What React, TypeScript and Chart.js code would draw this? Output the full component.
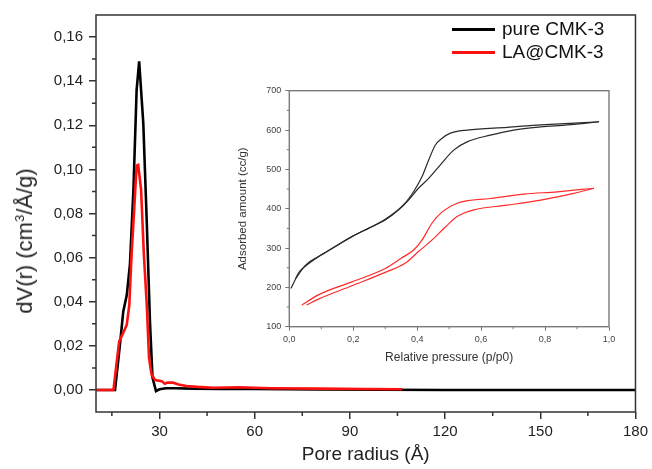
import React, { useEffect, useRef } from 'react';
import { Chart, registerables } from 'chart.js';
Chart.register(...registerables);

// ---- main plot data: pore size distribution ----
const blackRadius = [10, 15, 16, 17.5, 18.6, 19.7, 20.7, 21.8, 22.8, 23.6, 24.9, 26.0, 27.0, 27.8, 28.9, 30, 32, 35, 40, 50, 60, 80, 100, 120, 150, 180];
const blackDV = [0, 0, 0, 0.02, 0.0356, 0.043, 0.057, 0.091, 0.136, 0.149, 0.121, 0.076, 0.031, 0.0056, -0.0005, 0.0003, 0.0008, 0.0008, 0.0006, 0.0005, 0.0004, 0.0002, 0.0001, 0, 0, 0];
const redRadius = [10, 15.5, 17.3, 18.6, 19.7, 20.5, 21.2, 22.1, 22.8, 23.3, 24.2, 25.1, 26.0, 26.7, 27.5, 28.6, 30.7, 31.7, 32.5, 34.3, 36, 38.5, 42, 47, 55, 65, 80, 95, 106.5];
const redDV = [0, 0, 0.022, 0.026, 0.0296, 0.0387, 0.061, 0.0837, 0.1017, 0.102, 0.091, 0.061, 0.0387, 0.0146, 0.007, 0.0045, 0.004, 0.0028, 0.0033, 0.0033, 0.0025, 0.0018, 0.0014, 0.001, 0.0012, 0.0008, 0.0006, 0.0004, 0.0003];

const mainXTicks = [30, 60, 90, 120, 150, 180];
const mainXMinor = [15, 45, 75, 105, 135, 165];
const mainYTicks = [0, 0.02, 0.04, 0.06, 0.08, 0.1, 0.12, 0.14, 0.16];
const mainYMinor = [0.01, 0.03, 0.05, 0.07, 0.09, 0.11, 0.13, 0.15];

// ---- inset data: N2 isotherms ----
const blackAdsP = [0.005, 0.018, 0.028, 0.049, 0.091, 0.143, 0.196, 0.248, 0.300, 0.342, 0.373, 0.404, 0.436, 0.472, 0.514, 0.556, 0.629, 0.702, 0.786, 0.87, 0.969];
const blackAdsV = [197, 219, 236, 253, 278, 303, 329, 350, 371, 397, 422, 452, 477, 511, 549, 570, 587, 600, 608, 613, 621];
const blackDesP = [0.02, 0.05, 0.1, 0.2, 0.3, 0.36, 0.39, 0.415, 0.436, 0.457, 0.478, 0.504, 0.556, 0.681, 0.786, 0.969];
const blackDesV = [222, 256, 282, 331, 373, 412, 445, 481, 524, 562, 579, 592, 600, 607, 613, 621];
const redAdsP = [0.054, 0.091, 0.196, 0.300, 0.362, 0.404, 0.446, 0.489, 0.525, 0.577, 0.681, 0.786, 0.890, 0.953];
const redAdsV = [155, 170, 204, 238, 261, 291, 320, 354, 380, 397, 409, 422, 439, 452];
const redDesP = [0.039, 0.091, 0.196, 0.300, 0.35, 0.389, 0.415, 0.446, 0.478, 0.525, 0.629, 0.734, 0.838, 0.953];
const redDesV = [155, 181, 214, 248, 274, 295, 320, 363, 392, 414, 426, 437, 443, 452];

const insetXTicks = [0, 0.2, 0.4, 0.6, 0.8, 1.0];
const insetXMinor = [0.1, 0.3, 0.5, 0.7, 0.9];
const insetYTicks = [100, 200, 300, 400, 500, 600, 700];
const insetYMinor = [150, 250, 350, 450, 550, 650];

const FONT = "'Liberation Sans', Arial, Helvetica, sans-serif";

const pts = (xs: number[], ys: number[]) => xs.map((x, i) => ({ x, y: ys[i] }));

function framePlugin(color: string, width: number, minorX: number[], minorY: number[], minorLen: number, tickW: number) {
  return {
    id: 'frameMinor',
    afterDraw(chart: any) {
      const { ctx, chartArea: a, scales } = chart;
      ctx.save();
      ctx.strokeStyle = color;
      ctx.lineWidth = width;
      ctx.strokeRect(a.left, a.top, a.right - a.left, a.bottom - a.top);
      ctx.lineWidth = tickW;
      ctx.beginPath();
      minorX.forEach((v) => {
        const x = scales.x.getPixelForValue(v);
        ctx.moveTo(x, a.bottom);
        ctx.lineTo(x, a.bottom + minorLen);
      });
      minorY.forEach((v) => {
        const y = scales.y.getPixelForValue(v);
        ctx.moveTo(a.left, y);
        ctx.lineTo(a.left - minorLen, y);
      });
      ctx.stroke();
      ctx.restore();
    },
  };
}

export default function App() {
  const mainRef = useRef<HTMLCanvasElement | null>(null);
  const insetRef = useRef<HTMLCanvasElement | null>(null);

  useEffect(() => {
    const main = new Chart(mainRef.current as HTMLCanvasElement, {
      type: 'scatter',
      data: {
        datasets: [
          {
            label: 'LA@CMK-3',
            data: pts(redRadius, redDV),
            showLine: true,
            borderColor: '#ff1010',
            borderWidth: 2.6,
            pointRadius: 0,
            tension: 0,
            order: 0,
          },
          {
            label: 'pure CMK-3',
            data: pts(blackRadius, blackDV),
            showLine: true,
            borderColor: '#000000',
            borderWidth: 2.6,
            pointRadius: 0,
            tension: 0,
            order: 1,
          },
        ],
      },
      options: {
        animation: false,
        responsive: false,
        layout: { padding: { left: 0, top: 12, right: 15, bottom: 0 } },
        plugins: { legend: { display: false }, tooltip: { enabled: false } },
        scales: {
          x: {
            type: 'linear',
            min: 10,
            max: 180,
            afterBuildTicks: (s: any) => { s.ticks = mainXTicks.map((v) => ({ value: v })); },
            afterFit: (s: any) => { s.height = 57; },
            grid: { drawOnChartArea: false, drawTicks: true, tickLength: 7, color: '#333', lineWidth: 1.5 },
            border: { display: false },
            ticks: { color: '#222', font: { family: FONT, size: 15 }, padding: 4, maxRotation: 0, callback: (v: any) => String(v) },
            title: { display: true, text: 'Pore radius (Å)', color: '#222', font: { family: FONT, size: 19 }, padding: { top: 0, bottom: 3 } },
          },
          y: {
            type: 'linear',
            min: -0.01,
            max: 0.17,
            afterBuildTicks: (s: any) => { s.ticks = mainYTicks.map((v) => ({ value: v })); },
            afterFit: (s: any) => { s.width = 96; },
            grid: { drawOnChartArea: false, drawTicks: true, tickLength: 7, color: '#333', lineWidth: 1.5 },
            border: { display: false },
            ticks: { color: '#222', font: { family: FONT, size: 15 }, padding: 6, callback: (v: any) => Number(v).toFixed(2).replace('.', ',') },
            title: { display: false },
          },
        },
      },
      plugins: [framePlugin('#333', 1.5, mainXMinor, mainYMinor, 4, 1.5)],
    } as any);

    const inset = new Chart(insetRef.current as HTMLCanvasElement, {
      type: 'scatter',
      data: {
        datasets: [
          { label: 'pure CMK-3 ads', data: pts(blackAdsP, blackAdsV), showLine: true, borderColor: '#2a2a2a', borderWidth: 1.2, pointRadius: 0, cubicInterpolationMode: 'monotone' },
          { label: 'pure CMK-3 des', data: pts(blackDesP, blackDesV), showLine: true, borderColor: '#2a2a2a', borderWidth: 1.2, pointRadius: 0, cubicInterpolationMode: 'monotone' },
          { label: 'LA@CMK-3 ads', data: pts(redAdsP, redAdsV), showLine: true, borderColor: '#ff2a2a', borderWidth: 1.2, pointRadius: 0, cubicInterpolationMode: 'monotone' },
          { label: 'LA@CMK-3 des', data: pts(redDesP, redDesV), showLine: true, borderColor: '#ff2a2a', borderWidth: 1.2, pointRadius: 0, cubicInterpolationMode: 'monotone' },
        ],
      },
      options: {
        animation: false,
        responsive: false,
        layout: { padding: { left: 0, top: 10.7, right: 21, bottom: 0 } },
        plugins: { legend: { display: false }, tooltip: { enabled: false } },
        scales: {
          x: {
            type: 'linear',
            min: 0,
            max: 1,
            afterBuildTicks: (s: any) => { s.ticks = insetXTicks.map((v) => ({ value: v })); },
            afterFit: (s: any) => { s.height = 53.3; },
            grid: { drawOnChartArea: false, drawTicks: true, tickLength: 4, color: '#777', lineWidth: 1 },
            border: { display: false },
            ticks: { color: '#444', font: { family: FONT, size: 9 }, padding: 3, maxRotation: 0, callback: (v: any) => Number(v).toFixed(1).replace('.', ',') },
            title: { display: true, text: 'Relative pressure (p/p0)', color: '#333', font: { family: FONT, size: 12 }, padding: { top: 0, bottom: 15 } },
          },
          y: {
            type: 'linear',
            min: 100,
            max: 700,
            afterBuildTicks: (s: any) => { s.ticks = insetYTicks.map((v) => ({ value: v })); },
            afterFit: (s: any) => { s.width = 59.3; },
            grid: { drawOnChartArea: false, drawTicks: true, tickLength: 4, color: '#777', lineWidth: 1 },
            border: { display: false },
            ticks: { color: '#444', font: { family: FONT, size: 9 }, padding: 4, callback: (v: any) => String(v) },
            title: { display: true, text: 'Adsorbed amount (cc/g)', color: '#333', font: { family: FONT, size: 11.5 }, padding: { top: 6, bottom: 0 } },
          },
        },
      },
      plugins: [framePlugin('#7a7a7a', 1.4, insetXMinor, insetYMinor, 2.5, 1)],
    } as any);

    return () => {
      main.destroy();
      inset.destroy();
    };
  }, []);

  const legendText: React.CSSProperties = {
    position: 'absolute',
    left: 502,
    fontFamily: FONT,
    fontSize: 19,
    lineHeight: '22px',
    color: '#111',
    whiteSpace: 'nowrap',
  };

  return (
    <div style={{ position: 'fixed', left: 0, top: 0, width: 652, height: 469, background: '#fff' }}>
      <canvas ref={mainRef} width={652} height={469} style={{ position: 'absolute', left: 0, top: 0, width: 652, height: 469 }} />
      <canvas ref={insetRef} width={400} height={300} style={{ position: 'absolute', left: 230, top: 80, width: 400, height: 300 }} />
      <div
        style={{
          position: 'absolute',
          left: 25,
          top: 241,
          transform: 'translate(-50%, -50%) rotate(-90deg)',
          fontFamily: FONT,
          fontSize: 22,
          lineHeight: '24px',
          color: '#222',
          whiteSpace: 'nowrap',
        }}
      >
        dV(r) (cm<sup style={{ fontSize: 13, lineHeight: 0, verticalAlign: 'super' }}>3</sup>/Å/g)
      </div>
      <div style={{ position: 'absolute', left: 452, top: 27.5, width: 43, height: 3, background: '#000' }} />
      <div style={{ ...legendText, top: 18 }}>pure CMK-3</div>
      <div style={{ position: 'absolute', left: 452, top: 50.5, width: 43, height: 3, background: '#ff1010' }} />
      <div style={{ ...legendText, top: 41 }}>LA@CMK-3</div>
    </div>
  );
}
